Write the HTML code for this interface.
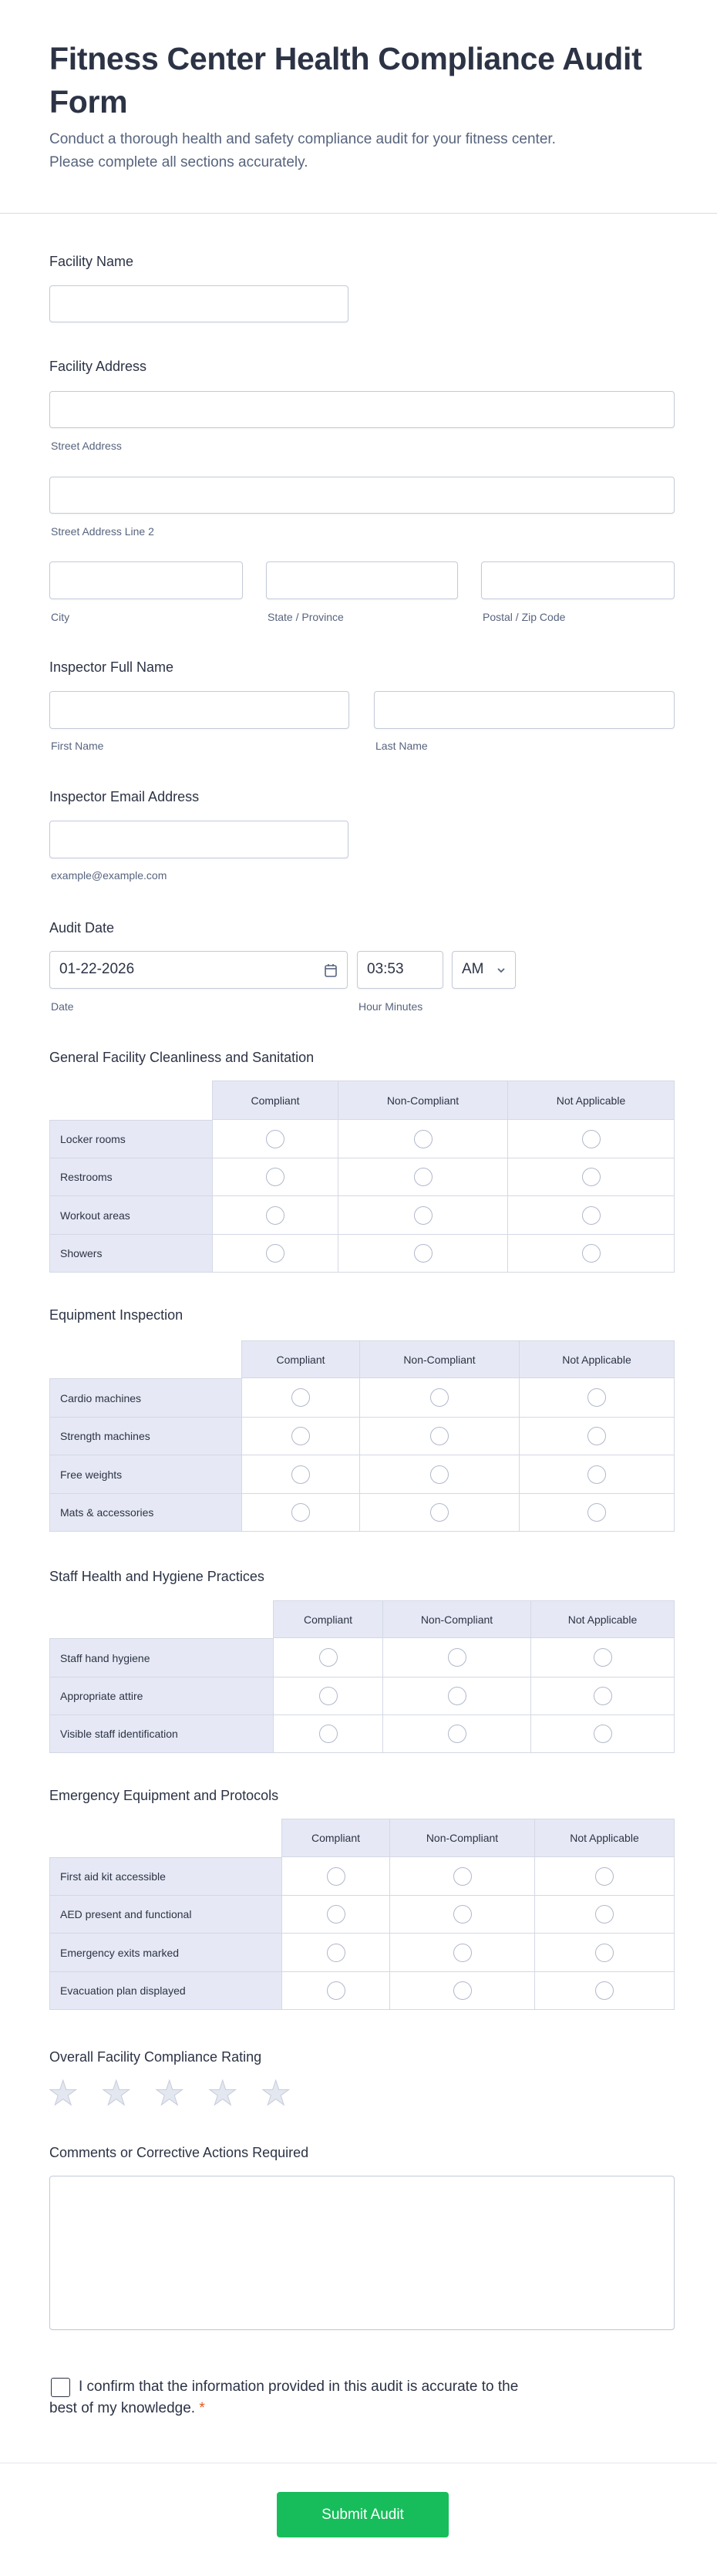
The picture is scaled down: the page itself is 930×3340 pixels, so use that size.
<!DOCTYPE html>
<html><head><meta charset="utf-8"><style>
*{box-sizing:border-box;margin:0;padding:0}
body{width:930px;height:3340px;background:#fff;font-family:"Liberation Sans",sans-serif;color:#2c3345;position:relative;overflow:hidden}
.a{position:absolute}
h1{position:absolute;left:64px;top:48px;width:820px;font-size:41px;line-height:56px;font-weight:700;color:#2c3345;letter-spacing:-0.3px}
.sub{left:64px;top:166px;font-size:19px;line-height:30px;color:#57647e}
.lbl{font-size:18px;color:#2c3345;left:64px}
.in{border:1px solid #c3cad8;border-radius:4px;background:#fff;box-shadow:0 1px 2px rgba(0,0,0,.05)}
.sl{font-size:14px;color:#57647e}
table{position:absolute;border-collapse:separate;border-spacing:0;font-size:14px;color:#2c3345}
td,th{border-right:1px solid #d3d8e4;border-bottom:1px solid #d3d8e4;text-align:center;font-weight:400;padding:0}
th{background:#e6e9f5;border-top:1px solid #d3d8e4}
th.e{background:#fff;border:none;border-right:1px solid #d3d8e4}
td.r{background:#e6e9f5;text-align:left;padding-left:13px;border-left:1px solid #d3d8e4}
.c{display:inline-block;width:24px;height:24px;border:1.5px solid #b0b8ca;border-radius:50%;vertical-align:middle}
.star{font-size:44px;color:#e3e7f0;-webkit-text-stroke:1px #c6ccda}
</style></head><body>
<h1>Fitness Center Health Compliance Audit Form</h1>
<div class="a sub">Conduct a thorough health and safety compliance audit for your fitness center.<br>Please complete all sections accurately.</div>
<div class="a" style="left:0;top:276px;width:930px;height:1px;background:#d6dbe6"></div>

<div class="a lbl" style="top:329px">Facility Name</div>
<div class="a in" style="left:64px;top:370px;width:388px;height:48px"></div>

<div class="a lbl" style="top:465px">Facility Address</div>
<div class="a in" style="left:64px;top:507px;width:811px;height:48px"></div>
<div class="a sl" style="left:66px;top:570px">Street Address</div>
<div class="a in" style="left:64px;top:618px;width:811px;height:48px"></div>
<div class="a sl" style="left:66px;top:681px">Street Address Line 2</div>
<div class="a in" style="left:64px;top:728px;width:251px;height:49px"></div>
<div class="a in" style="left:345px;top:728px;width:249px;height:49px"></div>
<div class="a in" style="left:624px;top:728px;width:251px;height:49px"></div>
<div class="a sl" style="left:66px;top:792px">City</div>
<div class="a sl" style="left:347px;top:792px">State / Province</div>
<div class="a sl" style="left:626px;top:792px">Postal / Zip Code</div>

<div class="a lbl" style="top:855px">Inspector Full Name</div>
<div class="a in" style="left:64px;top:896px;width:389px;height:49px"></div>
<div class="a in" style="left:485px;top:896px;width:390px;height:49px"></div>
<div class="a sl" style="left:66px;top:959px">First Name</div>
<div class="a sl" style="left:487px;top:959px">Last Name</div>

<div class="a lbl" style="top:1023px">Inspector Email Address</div>
<div class="a in" style="left:64px;top:1064px;width:388px;height:49px"></div>
<div class="a sl" style="left:66px;top:1127px">example@example.com</div>

<div class="a lbl" style="top:1193px">Audit Date</div>
<div class="a in" style="left:64px;top:1233px;width:387px;height:49px;font-size:19px;padding:12px 12px"><span>01-22-2026</span>
<svg style="position:absolute;right:12px;top:14px" width="18" height="20" viewBox="0 0 18 20"><rect x="2" y="4" width="14" height="14" rx="2" fill="none" stroke="#57647e" stroke-width="1.6"/><line x1="2" y1="8" x2="16" y2="8" stroke="#57647e" stroke-width="1.6"/><line x1="6" y1="2" x2="6" y2="5" stroke="#57647e" stroke-width="1.6"/><line x1="12" y1="2" x2="12" y2="5" stroke="#57647e" stroke-width="1.6"/></svg></div>
<div class="a in" style="left:463px;top:1233px;width:112px;height:49px;font-size:19px;padding:12px 12px">03:53</div>
<div class="a in" style="left:586px;top:1233px;width:83px;height:49px;font-size:19px;padding:12px 12px">AM
<svg style="position:absolute;right:12px;top:20px" width="12" height="8" viewBox="0 0 12 8"><polyline points="2,2 6,6 10,2" fill="none" stroke="#57647e" stroke-width="1.8"/></svg></div>
<div class="a sl" style="left:66px;top:1297px">Date</div>
<div class="a sl" style="left:465px;top:1297px">Hour Minutes</div>

<div class="a lbl" style="top:1361px">General Facility Cleanliness and Sanitation</div>
<table style="left:64px;top:1401px;width:811px">
<tr style="height:51px"><th class="e" style="width:212px"></th><th style="width:163px">Compliant</th><th style="width:220px">Non-Compliant</th><th>Not Applicable</th></tr>
<tr style="height:50px"><td class="r" style="border-top:1px solid #d3d8e4">Locker rooms</td><td><span class="c"></span></td><td><span class="c"></span></td><td><span class="c"></span></td></tr>
<tr style="height:49px"><td class="r">Restrooms</td><td><span class="c"></span></td><td><span class="c"></span></td><td><span class="c"></span></td></tr>
<tr style="height:50px"><td class="r">Workout areas</td><td><span class="c"></span></td><td><span class="c"></span></td><td><span class="c"></span></td></tr>
<tr style="height:49px"><td class="r">Showers</td><td><span class="c"></span></td><td><span class="c"></span></td><td><span class="c"></span></td></tr>
</table>

<div class="a lbl" style="top:1695px">Equipment Inspection</div>
<table style="left:64px;top:1738px;width:811px">
<tr style="height:49px"><th class="e" style="width:250px"></th><th style="width:153px">Compliant</th><th style="width:207px">Non-Compliant</th><th>Not Applicable</th></tr>
<tr style="height:51px"><td class="r" style="border-top:1px solid #d3d8e4">Cardio machines</td><td><span class="c"></span></td><td><span class="c"></span></td><td><span class="c"></span></td></tr>
<tr style="height:49px"><td class="r">Strength machines</td><td><span class="c"></span></td><td><span class="c"></span></td><td><span class="c"></span></td></tr>
<tr style="height:50px"><td class="r">Free weights</td><td><span class="c"></span></td><td><span class="c"></span></td><td><span class="c"></span></td></tr>
<tr style="height:49px"><td class="r">Mats &amp; accessories</td><td><span class="c"></span></td><td><span class="c"></span></td><td><span class="c"></span></td></tr>
</table>

<div class="a lbl" style="top:2034px">Staff Health and Hygiene Practices</div>
<table style="left:64px;top:2075px;width:811px">
<tr style="height:49px"><th class="e" style="width:291px"></th><th style="width:142px">Compliant</th><th style="width:192px">Non-Compliant</th><th>Not Applicable</th></tr>
<tr style="height:51px"><td class="r" style="border-top:1px solid #d3d8e4">Staff hand hygiene</td><td><span class="c"></span></td><td><span class="c"></span></td><td><span class="c"></span></td></tr>
<tr style="height:49px"><td class="r">Appropriate attire</td><td><span class="c"></span></td><td><span class="c"></span></td><td><span class="c"></span></td></tr>
<tr style="height:49px"><td class="r">Visible staff identification</td><td><span class="c"></span></td><td><span class="c"></span></td><td><span class="c"></span></td></tr>
</table>

<div class="a lbl" style="top:2318px">Emergency Equipment and Protocols</div>
<table style="left:64px;top:2358px;width:811px">
<tr style="height:50px"><th class="e" style="width:302px"></th><th style="width:140px">Compliant</th><th style="width:188px">Non-Compliant</th><th>Not Applicable</th></tr>
<tr style="height:50px"><td class="r" style="border-top:1px solid #d3d8e4">First aid kit accessible</td><td><span class="c"></span></td><td><span class="c"></span></td><td><span class="c"></span></td></tr>
<tr style="height:49px"><td class="r">AED present and functional</td><td><span class="c"></span></td><td><span class="c"></span></td><td><span class="c"></span></td></tr>
<tr style="height:50px"><td class="r">Emergency exits marked</td><td><span class="c"></span></td><td><span class="c"></span></td><td><span class="c"></span></td></tr>
<tr style="height:49px"><td class="r">Evacuation plan displayed</td><td><span class="c"></span></td><td><span class="c"></span></td><td><span class="c"></span></td></tr>
</table>

<div class="a lbl" style="top:2657px">Overall Facility Compliance Rating</div>
<div class="a star" style="left:62px;top:2690px;line-height:50px">★</div>
<div class="a star" style="left:131px;top:2690px;line-height:50px">★</div>
<div class="a star" style="left:200px;top:2690px;line-height:50px">★</div>
<div class="a star" style="left:269px;top:2690px;line-height:50px">★</div>
<div class="a star" style="left:338px;top:2690px;line-height:50px">★</div>

<div class="a lbl" style="top:2781px">Comments or Corrective Actions Required</div>
<div class="a in" style="left:64px;top:2821px;width:811px;height:200px"></div>

<div class="a" style="left:66px;top:3083px;width:25px;height:25px;border:1.5px solid #2c3345;border-radius:3px"></div>
<div class="a" style="left:64px;top:3081px;width:800px;font-size:19px;line-height:28px;color:#2c3345;text-indent:38px">I confirm that the information provided in this audit is accurate to the<br>best of my knowledge. <span style="color:#e05a1b">*</span></div>

<div class="a" style="left:0;top:3193px;width:930px;height:1px;background:#e3e6ee"></div>
<div class="a" style="left:359px;top:3231px;width:223px;height:59px;background:#18bd5b;border-radius:4px;color:#fff;font-size:19px;line-height:59px;text-align:center">Submit Audit</div>
</body></html>
